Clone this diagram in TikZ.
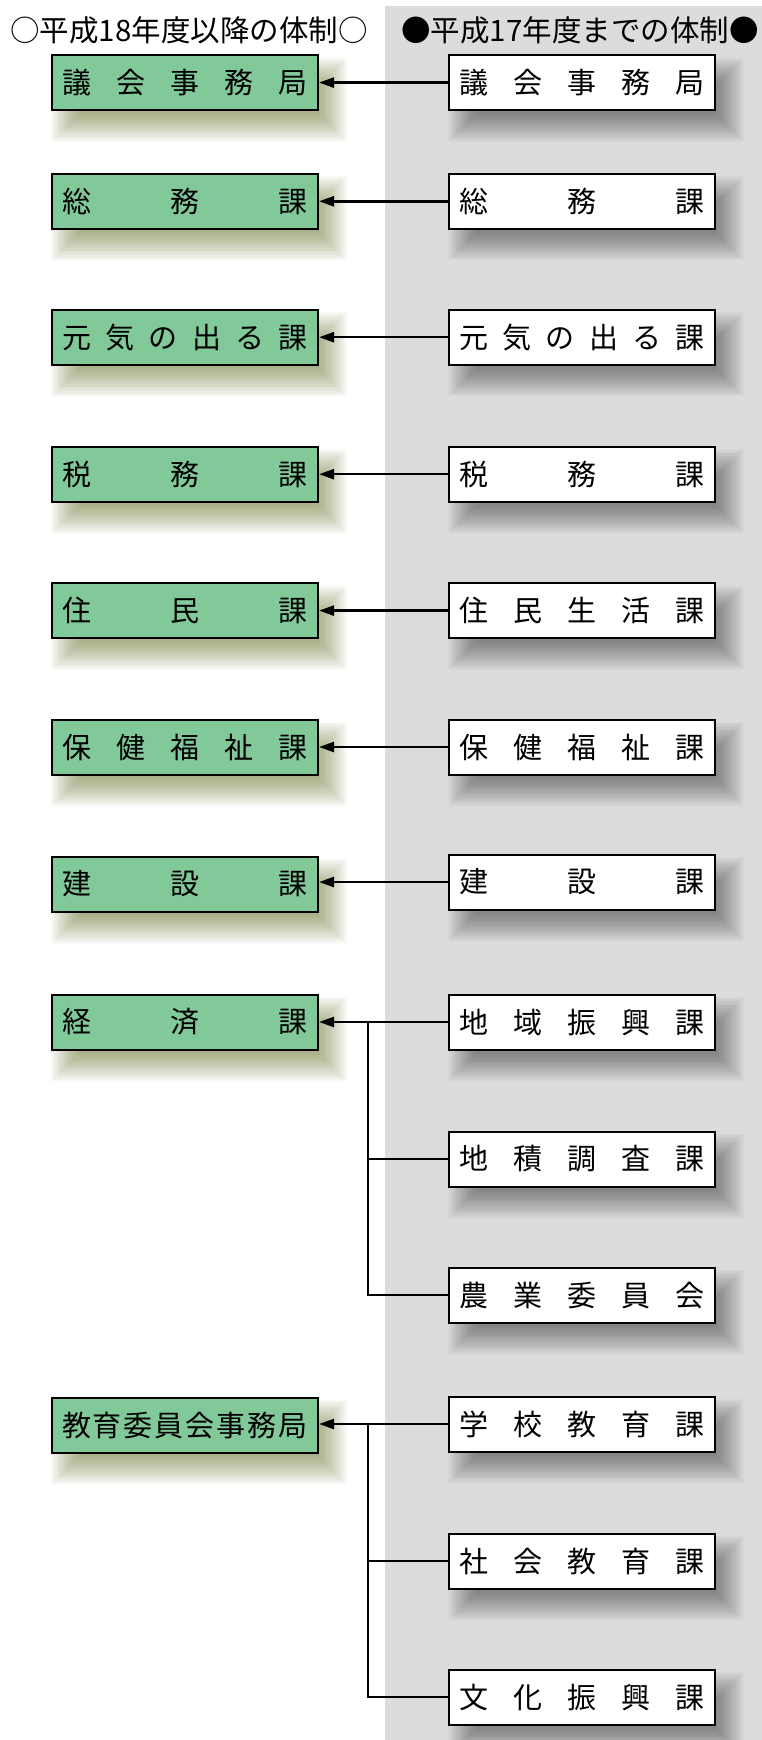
\documentclass[tikz,border=0pt]{standalone}
\usepackage{fontspec}
\setmainfont{Noto Sans CJK JP}
\usetikzlibrary{arrows.meta,calc}
\definecolor{boxgreen}{RGB}{130,201,154}
\definecolor{bggray}{RGB}{220,220,220}
\definecolor{shadolive}{RGB}{85,95,10}
\definecolor{shadgray}{RGB}{40,40,40}
\pgfdeclarelayer{back}
\pgfdeclarelayer{shad}
\pgfsetlayers{back,shad,main}
\newcommand{\dist}[1]{\makebox[246pt][s]{#1}}
\newcommand{\boxshadow}[4]{%
  \begin{pgfonlayer}{shad}
  \foreach \k in {0,...,20}{
    \pgfmathsetmacro{\e}{14-1.4*\k}
    \fill[#2, fill opacity=0.028]
      ($(#1.south west)+(#3-\e, #4+\e)$) rectangle ($(#1.north east)+(#3+\e, #4-\e)$);
  }
  \end{pgfonlayer}}
\tikzset{
  basebox/.style={draw=black, line width=2pt, minimum width=266pt, minimum height=55pt,
    inner sep=0pt, font=\fontsize{29}{29}\selectfont},
  newbox/.style={basebox, fill=boxgreen},
  oldbox/.style={basebox, fill=white},
  conn/.style={line width=2.5pt},
  arr/.style={conn, -{Triangle[length=15pt,width=10pt]}},
  head/.style={font=\fontsize{29.5}{29.5}\selectfont, inner sep=0pt}
}
\begin{document}
\begin{tikzpicture}[x=1pt,y=-1pt]
\useasboundingbox (0,0) rectangle (762,1740);
\begin{pgfonlayer}{back}
  \fill[white] (0,0) rectangle (762,1740);
  \fill[bggray] (385,6) rectangle (762,1740);
\end{pgfonlayer}

\node[head] (h1) at (189,30) {○平成18年度以降の体制○};
\node[head] (h2) at (580,30) {●平成17年度までの体制●};

% new organisation (left)
\node[newbox] (n1) at (185,82.6) {\dist{議\hfill 会\hfill 事\hfill 務\hfill 局}};
\node[newbox] (n2) at (185,201.3) {\dist{総\hfill 務\hfill 課}};
\node[newbox] (n3) at (185,337.2) {\dist{元\hfill 気\hfill の\hfill 出\hfill る\hfill 課}};
\node[newbox] (n4) at (185,474.2) {\dist{税\hfill 務\hfill 課}};
\node[newbox] (n5) at (185,610.6) {\dist{住\hfill 民\hfill 課}};
\node[newbox] (n6) at (185,747) {\dist{保\hfill 健\hfill 福\hfill 祉\hfill 課}};
\node[newbox] (n7) at (185,884) {\dist{建\hfill 設\hfill 課}};
\node[newbox] (n8) at (185,1022) {\dist{経\hfill 済\hfill 課}};
\node[newbox] (n11) at (185,1425) {\dist{教\hfill 育\hfill 委\hfill 員\hfill 会\hfill 事\hfill 務\hfill 局}};

% old organisation (right)
\node[oldbox] (o1) at (582,82.6) {\dist{議\hfill 会\hfill 事\hfill 務\hfill 局}};
\node[oldbox] (o2) at (582,201.3) {\dist{総\hfill 務\hfill 課}};
\node[oldbox] (o3) at (582,337.2) {\dist{元\hfill 気\hfill の\hfill 出\hfill る\hfill 課}};
\node[oldbox] (o4) at (582,474.2) {\dist{税\hfill 務\hfill 課}};
\node[oldbox] (o5) at (582,610.6) {\dist{住\hfill 民\hfill 生\hfill 活\hfill 課}};
\node[oldbox] (o6) at (582,747) {\dist{保\hfill 健\hfill 福\hfill 祉\hfill 課}};
\node[oldbox] (o7) at (582,882) {\dist{建\hfill 設\hfill 課}};
\node[oldbox] (o8) at (582,1022) {\dist{地\hfill 域\hfill 振\hfill 興\hfill 課}};
\node[oldbox] (o9) at (582,1159) {\dist{地\hfill 積\hfill 調\hfill 査\hfill 課}};
\node[oldbox] (o10) at (582,1295) {\dist{農\hfill 業\hfill 委\hfill 員\hfill 会}};
\node[oldbox] (o11) at (582,1424) {\dist{学\hfill 校\hfill 教\hfill 育\hfill 課}};
\node[oldbox] (o12) at (582,1561) {\dist{社\hfill 会\hfill 教\hfill 育\hfill 課}};
\node[oldbox] (o13) at (582,1697) {\dist{文\hfill 化\hfill 振\hfill 興\hfill 課}};

% shadows
\foreach \n in {n1,n2,n3,n4,n5,n6,n7,n8,n11}{\boxshadow{\n}{shadolive}{14}{17}}
\foreach \n in {o1,o2,o3,o4,o5,o6,o7,o8,o9,o10,o11,o12,o13}{\boxshadow{\n}{shadgray}{14}{17}}

% connectors
\foreach \i in {1,...,8}{\draw[arr] (o\i.west) -- (o\i.west -| n\i.east);}
\draw[arr] (o11.west) -- (o11.west -| n11.east);

\coordinate (ja) at (368,1022);
\draw[conn] (ja) |- (o10.west);
\draw[conn] (o9.west) -- (o9.west -| ja);

\coordinate (jb) at (368,1424);
\draw[conn] (jb) |- (o13.west);
\draw[conn] (o12.west) -- (o12.west -| jb);
\end{tikzpicture}
\end{document}
